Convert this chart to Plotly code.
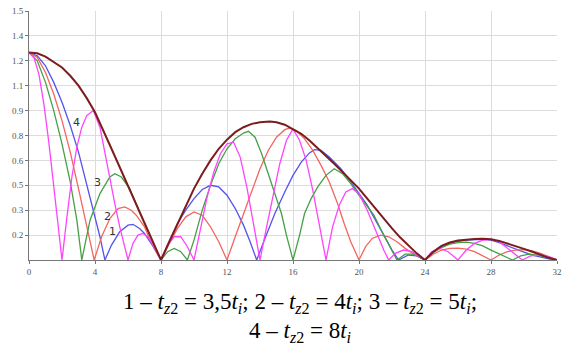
import plotly.graph_objects as go

# ---- data ----
env_x = [0, 0.5, 1, 1.5, 2, 2.5, 3, 3.5, 4, 5, 6, 7, 8,
         8.5, 9, 9.5, 10, 10.5, 11, 11.5, 12, 12.5, 13, 13.5, 14, 14.6, 15, 15.5, 16, 16.5, 17, 17.5,
         18, 18.5, 19, 19.5, 20, 20.5, 21, 21.5, 22, 22.5, 23, 23.5, 24,
         24.5, 25, 25.5, 26, 26.5, 27, 27.5, 28, 28.5, 29, 29.5, 30, 30.5, 31, 31.5, 32]
env_y = [1.25, 1.245, 1.225, 1.195, 1.16, 1.11, 1.05, 0.975, 0.89, 0.67, 0.45, 0.22, 0.0,
         0.11, 0.22, 0.33, 0.43, 0.52, 0.60, 0.67, 0.725, 0.77, 0.80, 0.82, 0.83, 0.835, 0.83, 0.815, 0.79, 0.76, 0.72, 0.675,
         0.63, 0.58, 0.53, 0.48, 0.43, 0.37, 0.31, 0.245, 0.19, 0.135, 0.085, 0.04, 0.0,
         0.05, 0.085, 0.105, 0.117, 0.124, 0.127, 0.128, 0.125, 0.115, 0.10, 0.085, 0.067, 0.05, 0.03, 0.013, 0.0]

c1_x = [0, 0.5, 1, 1.5, 2, 2.5, 3, 3.5, 4, 4.3, 4.6,
        5, 5.5, 6, 6.3, 6.7, 7, 7.5, 8,
        8.5, 9, 9.5, 10, 10.5, 11, 11.5, 12, 12.5, 13, 13.4, 13.8,
        14.3, 14.9, 15.5, 16, 16.5, 17, 17.3, 17.7, 18.2, 18.9, 19.5, 20, 20.5, 21, 21.5, 22, 22.4,
        23, 23.5, 24,
        24.5, 25, 25.5, 26, 26.5, 27, 27.5, 28, 28.5, 29, 29.5, 30, 30.5, 31, 31.5, 32]
c1_y = [1.25, 1.23, 1.17, 1.07, 0.95, 0.81, 0.65, 0.46, 0.26, 0.14, 0.0,
        0.09, 0.17, 0.21, 0.215, 0.19, 0.16, 0.085, 0.0,
        0.11, 0.22, 0.30, 0.37, 0.425, 0.45, 0.44, 0.39, 0.31, 0.21, 0.11, 0.0,
        0.13, 0.28, 0.41, 0.51, 0.59, 0.645, 0.665, 0.66, 0.62, 0.55, 0.47, 0.40, 0.33, 0.24, 0.15, 0.06, 0.0,
        0.03, 0.025, 0.0,
        0.045, 0.08, 0.10, 0.113, 0.12, 0.124, 0.125, 0.12, 0.105, 0.085, 0.065, 0.048, 0.03, 0.017, 0.007, 0.0]

c2_x = [0, 0.5, 1, 1.5, 2, 2.5, 3, 3.5, 3.95,
        4.4, 4.9, 5.4, 5.8, 6.2, 6.5, 7, 7.3, 7.7, 8,
        8.5, 9, 9.5, 10, 10.5, 11, 11.5, 12,
        12.5, 13, 13.5, 14, 14.5, 15, 15.5, 15.8, 16.2, 16.7, 17.2, 17.7, 18.2, 18.7, 19.1, 19.5, 20,
        20.4, 20.8, 21.3, 21.8, 22.3, 22.8, 23.4, 24,
        24.5, 25, 25.5, 26, 26.5, 27, 27.5, 28, 28.5, 29, 29.5, 30, 30.5, 31, 31.5, 32]
c2_y = [1.25, 1.22, 1.13, 1.00, 0.84, 0.65, 0.43, 0.21, 0.0,
        0.14, 0.25, 0.31, 0.32, 0.30, 0.27, 0.20, 0.13, 0.05, 0.0,
        0.10, 0.19, 0.26, 0.29, 0.27, 0.20, 0.11, 0.0,
        0.14, 0.28, 0.42, 0.55, 0.66, 0.74, 0.785, 0.795, 0.78, 0.73, 0.66, 0.57, 0.47, 0.34, 0.22, 0.11, 0.0,
        0.08, 0.13, 0.15, 0.14, 0.11, 0.07, 0.03, 0.0,
        0.035, 0.06, 0.07, 0.072, 0.065, 0.05, 0.025, 0.0, 0.03, 0.05, 0.06, 0.062, 0.055, 0.04, 0.02, 0.0]

c3_x = [0, 0.5, 1, 1.5, 2, 2.5, 2.9, 3.2,
        3.7, 4.3, 4.9, 5.2, 5.6, 6.1, 7, 8,
        8.4, 8.8, 9.2, 9.6,
        10, 10.5, 11, 11.5, 12, 12.5, 13, 13.3, 13.7, 14.1, 14.5, 14.9, 15.3, 15.6, 16,
        16.4, 16.7, 17.1, 17.5, 18, 18.5, 19, 19.5, 20, 20.5, 20.9, 21.4, 21.9, 22.3,
        22.8, 23.3, 24,
        24.5, 25, 25.5, 26, 26.5, 27, 27.5, 28, 28.5, 29, 29.3, 29.8, 30.3, 30.8, 31.4, 32]
c3_y = [1.25, 1.20, 1.07, 0.90, 0.70, 0.47, 0.24, 0.0,
        0.24, 0.40, 0.50, 0.52, 0.50, 0.43, 0.22, 0.0,
        0.05, 0.07, 0.05, 0.0,
        0.12, 0.30, 0.45, 0.58, 0.67, 0.73, 0.765, 0.775, 0.74, 0.64, 0.52, 0.40, 0.28, 0.15, 0.0,
        0.15, 0.28, 0.37, 0.44, 0.51, 0.55, 0.52, 0.46, 0.39, 0.32, 0.27, 0.17, 0.07, 0.0,
        0.035, 0.035, 0.0,
        0.045, 0.075, 0.095, 0.105, 0.108, 0.10, 0.085, 0.06, 0.035, 0.012, 0.0, 0.025, 0.035, 0.03, 0.015, 0.0]

c4_x = [0, 0.3, 0.6, 0.9, 1.2, 1.5, 1.8, 2.0,
        2.3, 2.6, 2.9, 3.2, 3.5, 3.9, 4.3, 4.6, 4.9, 5.2, 5.5, 6.0,
        6.3, 6.6, 6.9, 7.2, 7.6, 8,
        8.4, 8.8, 9.2, 9.6, 10,
        10.4, 10.8, 11.2, 11.6, 12.0, 12.4, 12.8, 13.2, 13.6, 14,
        14.4, 14.8, 15.2, 15.6, 16, 16.4, 16.8, 17.2, 17.6, 18,
        18.4, 18.8, 19.2, 19.6, 20, 20.5, 21, 21.5, 21.8,
        22.2, 22.7, 23.2, 23.6, 24,
        24.4, 24.9, 25.4, 26, 26.5, 27, 27.5, 28, 28.5, 29, 29.5, 29.9, 30.4, 31, 31.5, 32]
c4_y = [1.25, 1.22, 1.12, 0.94, 0.71, 0.45, 0.19, 0.0,
        0.26, 0.50, 0.68, 0.80, 0.87, 0.90, 0.80, 0.64, 0.48, 0.34, 0.20, 0.0,
        0.10, 0.15, 0.16, 0.14, 0.08, 0.0,
        0.09, 0.14, 0.14, 0.08, 0.0,
        0.18, 0.38, 0.53, 0.64, 0.70, 0.71, 0.62, 0.44, 0.22, 0.0,
        0.20, 0.40, 0.58, 0.72, 0.79, 0.72, 0.60, 0.42, 0.22, 0.0,
        0.20, 0.33, 0.41, 0.43, 0.40, 0.30, 0.18, 0.06, 0.0,
        0.04, 0.06, 0.05, 0.025, 0.0,
        0.05, 0.07, 0.05, 0.0, 0.06, 0.10, 0.12, 0.125, 0.11, 0.07, 0.03, 0.0, 0.025, 0.03, 0.02, 0.0]

y_tickvals = [0.15, 0.3, 0.45, 0.6, 0.75, 0.9, 1.05, 1.2, 1.35, 1.5]
y_ticktext = ["0.2", "0.3", "0.5", "0.6", "0.8", "0.9", "1.1", "1.2", "1.4", "1.5"]
x_tickvals = [0, 4, 8, 12, 16, 20, 24, 28, 32]

curve_labels = ["1", "2", "3", "4"]
label_x = [5.07, 4.75, 4.14, 2.9]
label_y = [0.17, 0.265, 0.466, 0.83]

caption_1 = ("1 – <i>t</i><sub><i>z</i>2</sub> = 3,5<i>t<sub>i</sub></i>; "
             "2 – <i>t</i><sub><i>z</i>2</sub> = 4<i>t<sub>i</sub></i>; "
             "3 – <i>t</i><sub><i>z</i>2</sub> = 5<i>t<sub>i</sub></i>;")
caption_2 = "4 – <i>t</i><sub><i>z</i>2</sub> = 8<i>t<sub>i</sub></i>"

fig = go.Figure()
series = [
    (c1_x, c1_y, "#5353ee", 1.3),
    (c2_x, c2_y, "#f2665f", 1.3),
    (c3_x, c3_y, "#45a045", 1.3),
    (c4_x, c4_y, "#ff44ff", 1.3),
    (env_x, env_y, "#7d1c1c", 2.0),
]
for xs, ys, col, w in series:
    fig.add_trace(go.Scatter(x=xs, y=ys, mode="lines",
                             line=dict(color=col, width=w), showlegend=False,
                             hoverinfo="skip"))

for t, lx, ly in zip(curve_labels, label_x, label_y):
    fig.add_annotation(x=lx, y=ly, xref="x", yref="y", text=t, showarrow=False,
                       font=dict(family="DejaVu Sans", size=11, color="#333333"))

serif = "Liberation Serif"
fig.add_annotation(x=0.513, y=-0.173, xref="paper", yref="paper", text=caption_1,
                   showarrow=False, xanchor="center", yanchor="middle",
                   font=dict(family=serif, size=23, color="black"))
fig.add_annotation(x=0.513, y=-0.29, xref="paper", yref="paper", text=caption_2,
                   showarrow=False, xanchor="center", yanchor="middle",
                   font=dict(family=serif, size=23, color="black"))

fig.update_layout(
    width=562, height=343,
    margin=dict(l=29, r=5, t=11, b=83, autoexpand=False),
    paper_bgcolor="white", plot_bgcolor="white",
    xaxis=dict(range=[0, 32], tickvals=x_tickvals, showgrid=True, gridcolor="#dcdcdc",
               gridwidth=1, zeroline=False, showline=True, linecolor="#777777", linewidth=1,
               ticks="outside", ticklen=3, tickcolor="#777777",
               tickfont=dict(family=serif, size=9, color="#555555")),
    yaxis=dict(range=[0, 1.5], tickvals=y_tickvals, ticktext=y_ticktext, showgrid=True,
               gridcolor="#dcdcdc", gridwidth=1, zeroline=False, showline=True,
               linecolor="#777777", linewidth=1, ticks="outside", ticklen=3,
               tickcolor="#777777",
               tickfont=dict(family=serif, size=9, color="#555555")),
)

fig.write_html("out.html", config={"displayModeBar": False},
               post_script="document.body.style.margin='0';document.body.style.overflow='hidden';")
